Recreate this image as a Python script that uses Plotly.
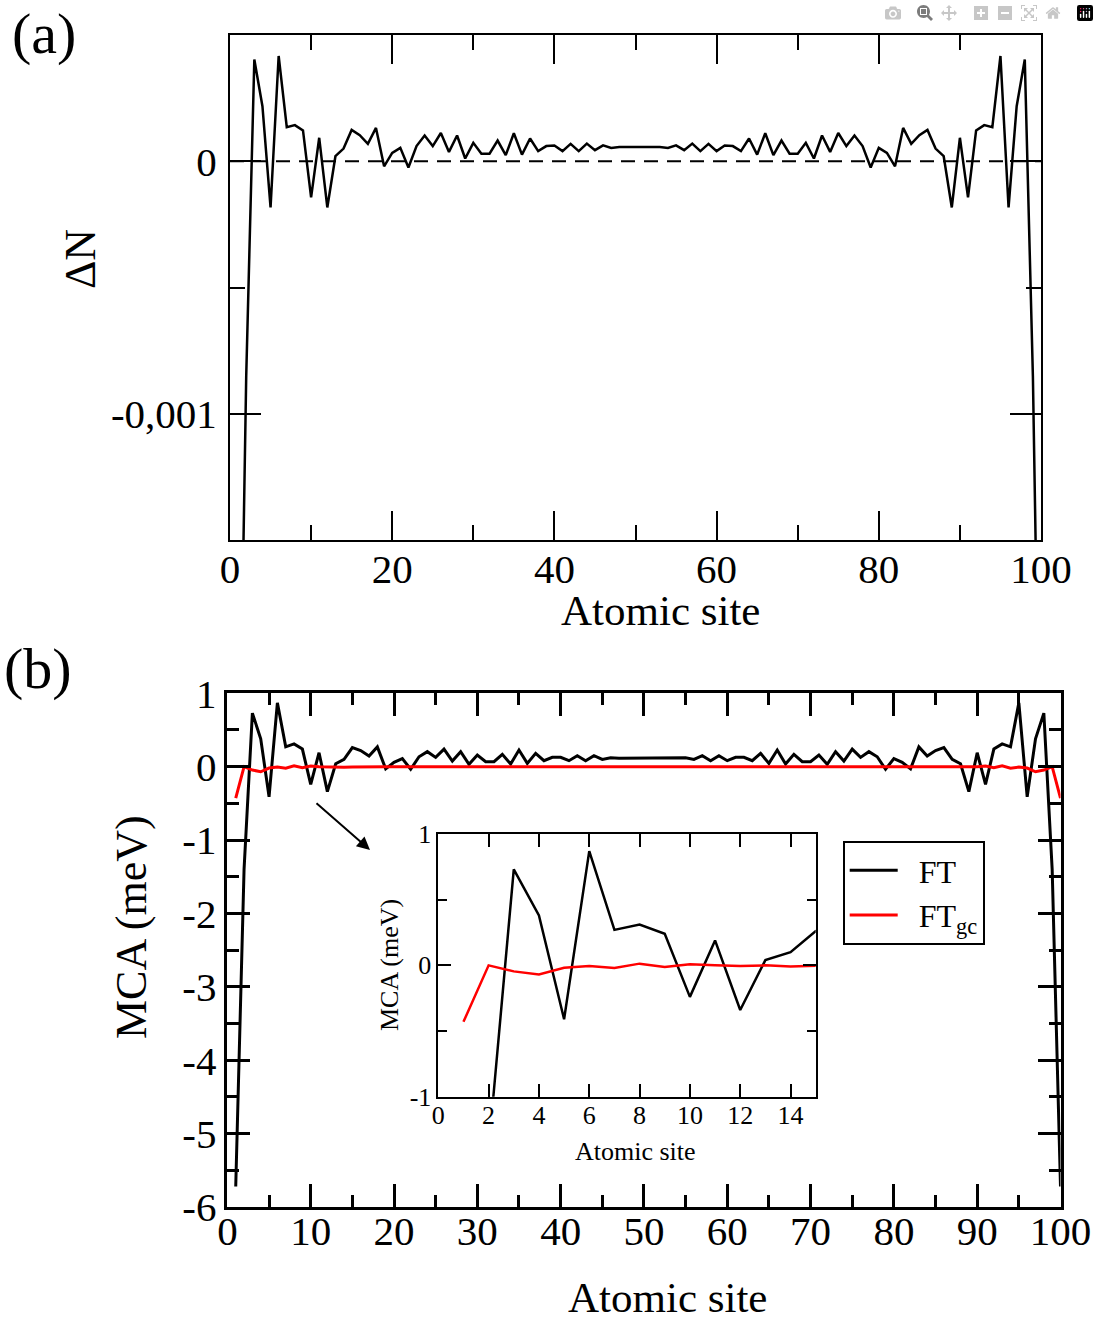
import plotly.graph_objects as go

W, H = 1099, 1321
FONT = "Liberation Serif"

# ---------------- data ----------------
sites = list(range(1, 101))

delta_n = [
    -0.0028, -0.00085, 0.000403, 0.000218, -0.000183, 0.000417, 0.000135, 0.000143, 0.000122, -0.000143,
    0.000093, -0.000183, 0.00002, 0.00005, 0.000124, 0.000103, 0.000069, 0.000132, -0.00002, 0.000033,
    0.000053, -0.000025, 0.00006, 0.000102, 0.00006, 0.000112, 0.000037, 0.000102, 0.000011, 0.000073,
    0.00003, 0.00003, 0.000082, 0.000024, 0.000111, 0.000026, 0.00009, 0.00004, 0.00006, 0.000062,
    0.00004, 0.000069, 0.00004, 0.00007, 0.000044, 0.000063, 0.000053, 0.000056, 0.000056, 0.000056,
    0.000056, 0.000056, 0.000056, 0.000053, 0.000063, 0.000044, 0.00007, 0.00004, 0.000069, 0.00004,
    0.000062, 0.00006, 0.00004, 0.00009, 0.000026, 0.000111, 0.000024, 0.000082, 0.00003, 0.00003,
    0.000073, 0.000011, 0.000102, 0.000037, 0.000112, 0.00006, 0.000102, 0.00006, -0.000025, 0.000053,
    0.000033, -0.00002, 0.000132, 0.000069, 0.000103, 0.000124, 0.00005, 0.00002, -0.000183, 0.000093,
    -0.000143, 0.000122, 0.000143, 0.000135, 0.000417, -0.000183, 0.000218, 0.000403, -0.00085, -0.0028,
]

zero_x = [0, 100]
zero_y = [0, 0]

mca_ft = [
    -5.72, -1.4, 0.73, 0.38, -0.41, 0.87, 0.27, 0.31, 0.24, -0.24,
    0.19, -0.34, 0.04, 0.10, 0.26, 0.22, 0.145, 0.27, -0.03, 0.06,
    0.11, -0.035, 0.135, 0.205, 0.127, 0.24, 0.077, 0.205, 0.032, 0.159,
    0.068, 0.068, 0.168, 0.036, 0.227, 0.045, 0.182, 0.082, 0.127, 0.127,
    0.082, 0.15, 0.082, 0.15, 0.10, 0.123, 0.114, 0.114, 0.114, 0.114,
    0.114, 0.114, 0.114, 0.114, 0.123, 0.10, 0.15, 0.082, 0.15, 0.082,
    0.127, 0.127, 0.082, 0.182, 0.045, 0.227, 0.036, 0.168, 0.068, 0.068,
    0.159, 0.032, 0.205, 0.077, 0.24, 0.127, 0.205, 0.135, -0.035, 0.11,
    0.06, -0.03, 0.27, 0.145, 0.22, 0.26, 0.10, 0.04, -0.34, 0.19,
    -0.24, 0.24, 0.31, 0.27, 0.87, -0.41, 0.38, 0.73, -1.4, -5.72,
]

mca_gc = [
    -0.43, 0.0, -0.046, -0.069, -0.018, -0.005, -0.02, 0.013, -0.013, 0.008,
    0.0, -0.005, 0.0, -0.008, -0.003, 0.0, 0.002, 0.0, 0.0, 0.0,
    0.0, 0.0, 0.0, 0.0, 0.0, 0.0, 0.0, 0.0, 0.0, 0.0,
    0.0, 0.0, 0.0, 0.0, 0.0, 0.0, 0.0, 0.0, 0.0, 0.0,
    0.0, 0.0, 0.0, 0.0, 0.0, 0.0, 0.0, 0.0, 0.0, 0.0,
    0.0, 0.0, 0.0, 0.0, 0.0, 0.0, 0.0, 0.0, 0.0, 0.0,
    0.0, 0.0, 0.0, 0.0, 0.0, 0.0, 0.0, 0.0, 0.0, 0.0,
    0.0, 0.0, 0.0, 0.0, 0.0, 0.0, 0.0, 0.0, 0.0, 0.0,
    0.0, 0.0, 0.0, 0.002, 0.0, -0.003, -0.008, 0.0, -0.005, 0.0,
    0.008, -0.013, 0.013, -0.02, -0.005, -0.018, -0.069, -0.046, 0.0, -0.43,
]

a_ytickvals = [0, -0.001]
a_yticktext = ["0", "-0,001"]
b_ytickvals = [-6, -5, -4, -3, -2, -1, 0, 1]
b_yticktext = ["-6", "-5", "-4", "-3", "-2", "-1", "0", "1"]
in_ytickvals = [-1, 0, 1]
in_yticktext = ["-1", "0", "1"]


# ---------------- helpers (layout positions in pixels) ----------------
def px(x):
    return x / W


def py(y):
    return 1 - y / H


fig = go.Figure()

# panel (a)
fig.add_trace(go.Scatter(x=zero_x, y=zero_y, mode="lines", xaxis="x", yaxis="y",
                         line=dict(color="black", width=2, dash="14px,9px"), showlegend=False,
                         hoverinfo="skip"))
fig.add_trace(go.Scatter(x=sites, y=delta_n, mode="lines", xaxis="x", yaxis="y",
                         line=dict(color="black", width=2.5), showlegend=False))

# panel (b)
fig.add_trace(go.Scatter(x=sites, y=mca_ft, mode="lines", xaxis="x2", yaxis="y2",
                         line=dict(color="black", width=3), name="\u00a0\u00a0FT"))
fig.add_trace(go.Scatter(x=sites, y=mca_gc, mode="lines", xaxis="x2", yaxis="y2",
                         line=dict(color="#ff0000", width=3), name="\u00a0\u00a0FT<sub>gc</sub>"))

# inset
fig.add_trace(go.Scatter(x=sites, y=mca_ft, mode="lines", xaxis="x3", yaxis="y3",
                         line=dict(color="black", width=2.5), showlegend=False))
fig.add_trace(go.Scatter(x=sites, y=mca_gc, mode="lines", xaxis="x3", yaxis="y3",
                         line=dict(color="#ff0000", width=2.5), showlegend=False))

tickfont = dict(family=FONT, size=41, color="black")


def frame_axis(**kw):
    d = dict(showline=True, linecolor="black", mirror="allticks", ticks="inside",
             tickcolor="black", showgrid=False, zeroline=False, tickfont=tickfont,
             automargin=False)
    d.update(kw)
    return d


fig.update_layout(
    width=W, height=H,
    margin=dict(l=0, r=0, t=0, b=0, pad=0, autoexpand=False),
    paper_bgcolor="white", plot_bgcolor="white",
    xaxis=frame_axis(domain=[px(230), px(1041)], anchor="y", range=[0, 100],
                     tickmode="linear", tick0=0, dtick=20, ticklen=29, tickwidth=2, linewidth=2,
                     ticklabelstandoff=-8,
                     minor=dict(tickmode="linear", tick0=0, dtick=10, ticklen=15, tickwidth=2,
                                ticks="inside", tickcolor="black")),
    yaxis=frame_axis(domain=[py(540), py(35)], anchor="x", range=[-0.0015, 0.0005],
                     tickmode="array", tickvals=a_ytickvals, ticktext=a_yticktext,
                     ticklen=31, tickwidth=2, linewidth=2, ticklabelstandoff=3,
                     minor=dict(tickmode="linear", tick0=0, dtick=0.0005, ticklen=15, tickwidth=2,
                                ticks="inside", tickcolor="black")),
    xaxis2=frame_axis(domain=[px(227.4), px(1060.5)], anchor="y2", range=[0, 100],
                      tickmode="linear", tick0=0, dtick=10, ticklen=23, tickwidth=2.5, linewidth=2.5,
                      ticklabelstandoff=-14,
                      minor=dict(tickmode="linear", tick0=0, dtick=5, ticklen=12, tickwidth=2.5,
                                 ticks="inside", tickcolor="black")),
    yaxis2=frame_axis(domain=[py(1207), py(693.3)], anchor="x2", range=[-6, 1],
                      tickmode="array", tickvals=b_ytickvals, ticktext=b_yticktext,
                      ticklen=23, tickwidth=2.5, linewidth=2.5,
                      minor=dict(tickmode="linear", tick0=0, dtick=0.5, ticklen=12, tickwidth=2.5,
                                 ticks="inside", tickcolor="black")),
    xaxis3=frame_axis(domain=[px(438.3), px(815.7)], anchor="y3", range=[0, 15],
                      tickmode="linear", tick0=0, dtick=2, ticklen=13, tickwidth=1.5, linewidth=1.5,
                      ticklabelstandoff=-6,
                      tickfont=dict(family=FONT, size=26, color="black")),
    yaxis3=frame_axis(domain=[py(1096.7), py(834)], anchor="x3", range=[-1, 1],
                      tickmode="array", tickvals=in_ytickvals, ticktext=in_yticktext,
                      ticklen=13, tickwidth=1.5, linewidth=1.5,
                      tickfont=dict(family=FONT, size=26, color="black"),
                      minor=dict(tickmode="linear", tick0=0, dtick=0.5, ticklen=9, tickwidth=1.5,
                                 ticks="inside", tickcolor="black")),
    showlegend=True,
    legend=dict(x=px(842.7), y=py(841), xanchor="left", yanchor="top",
                bordercolor="black", borderwidth=2, bgcolor="white",
                font=dict(family=FONT, size=32, color="black"),
                itemwidth=48, tracegroupgap=0),
)

ann = [
    dict(text="(a)", x=px(44), y=py(33), size=58),
    dict(text="(b)", x=px(38), y=py(668), size=58),
    dict(text="ΔN", x=px(80), y=py(259), size=44, angle=-90),
    dict(text="Atomic site", x=px(660), y=py(610), size=43),
    dict(text="MCA (meV)", x=px(131), y=py(927), size=44, angle=-90),
    dict(text="Atomic site", x=px(667), y=py(1297), size=43),
    dict(text="MCA (meV)", x=px(389), y=py(965), size=26, angle=-90),
    dict(text="Atomic site", x=px(635), y=py(1151), size=26),
]
for a in ann:
    fig.add_annotation(text=a["text"], x=a["x"], y=a["y"], xref="paper", yref="paper",
                       xanchor="center", yanchor="middle", showarrow=False,
                       textangle=a.get("angle", 0),
                       font=dict(family=FONT, size=a["size"], color="black"))

# arrow pointing into the inset (tail offset in pixels)
fig.add_annotation(x=px(370), y=py(850), ax=-55, ay=-48,
                   xref="paper", yref="paper",
                   text="", showarrow=True, arrowhead=2, arrowsize=1.3, arrowwidth=2,
                   arrowcolor="black")

fig.write_html("out.html", post_script="document.body.style.margin='0';")
